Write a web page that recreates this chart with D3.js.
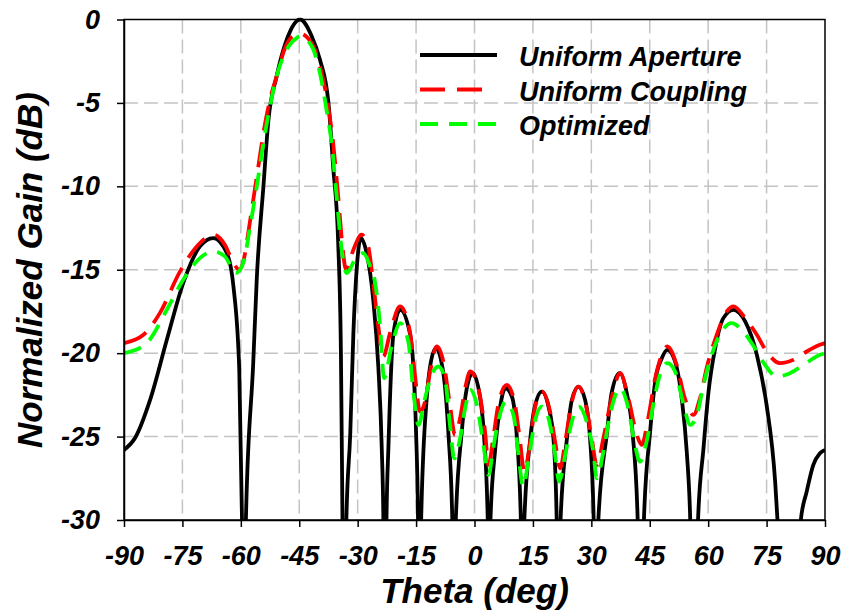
<!DOCTYPE html>
<html>
<head>
<meta charset="utf-8">
<script src="https://cdn.jsdelivr.net/npm/d3@7"></script>
<style>
  body { margin: 0; background: #fff; }
  text { font-family: "Liberation Sans", Arial, sans-serif; font-weight: bold; font-style: italic; }
</style>
</head>
<body>
<svg id="chart" width="847" height="615"></svg>
<script>
var width = 847, height = 615;
var margin = { top: 19.5, right: 22, bottom: 95, left: 124 };

var xTicks = [-90, -75, -60, -45, -30, -15, 0, 15, 30, 45, 60, 75, 90];
var yTicks = [-30, -25, -20, -15, -10, -5, 0];

var seriesNames = ["Uniform Aperture", "Uniform Coupling", "Optimized"];

// [theta (deg), gain (dB)]; values below -30 are clipped
var uniformAperture = [
  [-90, -25.8], [-87.2, -25.1], [-83.3, -22.8], [-79, -19.2], [-74.8, -15.8], [-70.5, -13.6],
  [-67.1, -13.1], [-63.6, -14.0], [-61.9, -16.0], [-60.4, -21], [-59.7, -30], [-59.2, -42],
  [-58.7, -30], [-56.8, -20.5], [-55.9, -15.5], [-54.2, -10.0], [-52.9, -6.0], [-50.8, -3.4],
  [-48.2, -1.2], [-44.8, 0], [-41.8, -1.0], [-39.7, -2.4], [-37.5, -5.0], [-36.3, -8.8],
  [-35.0, -13.4], [-34.3, -20], [-33.9, -30], [-33.4, -42], [-32.9, -30], [-31.9, -24.8],
  [-31.1, -18.8], [-30.2, -14.8], [-29.2, -13.1], [-27.7, -14.0], [-26.0, -16.8], [-24.7, -20.8],
  [-23.8, -25.8], [-23.4, -30], [-23.0, -42], [-22.6, -30], [-22.1, -25.6], [-20.8, -18.8],
  [-19.1, -17.4], [-16.6, -18.8], [-15.7, -20.8], [-15.0, -24.8], [-14.5, -30], [-14.1, -42],
  [-13.7, -30], [-12.3, -22.8], [-11.4, -20.8], [-9.9, -19.7], [-8.0, -21.2], [-6.7, -24.8],
  [-5.7, -30], [-5.25, -42], [-4.8, -30], [-3.3, -24.8], [-2.2, -22.4], [-0.5, -21.2],
  [1.4, -22.6], [2.4, -24.8], [3.4, -30], [3.75, -42], [4.1, -30], [5.3, -25.8],
  [6.6, -23.2], [7.9, -22.1], [9.6, -22.6], [10.8, -24.8], [11.9, -30], [12.35, -42],
  [12.8, -30], [14.3, -25.2], [15.5, -23.2], [17.3, -22.3], [19.0, -23.2], [20.3, -25.2],
  [21.1, -30], [21.6, -42], [22.1, -30], [23.7, -25.2], [25.0, -22.8], [26.7, -22.0],
  [28.4, -22.8], [29.7, -25.2], [30.6, -30], [31.2, -42], [31.8, -30], [34.0, -24.8],
  [35.2, -22.4], [37.3, -21.2], [39.1, -22.4], [40.6, -24.8], [41.9, -30], [42.7, -42],
  [43.5, -30], [45.1, -24.7], [46.4, -21.7], [48.1, -20.3], [49.5, -19.8], [51.5, -20.5],
  [53.2, -22.7], [54.5, -25.9], [55.4, -30], [56.4, -42], [57.4, -30], [58.8, -25.7],
  [60.1, -22.3], [61.8, -19.7], [63.9, -17.9], [66.5, -17.4], [69.5, -18.1], [72.5, -20.1],
  [75.0, -23.1], [77.2, -27.7], [77.8, -30], [80.8, -45], [83.8, -30], [85.3, -28.3],
  [87.0, -26.7], [88.7, -26.0], [90, -25.8]
];

var uniformCoupling = [
  [-90, -19.4], [-85, -18.9], [-80.8, -17.6], [-75.6, -15.1], [-70.5, -13.4], [-67.1, -12.9],
  [-64.1, -13.5], [-61.9, -14.6], [-60.3, -15.0], [-58.9, -14.0], [-58.1, -12.8], [-56.8, -10.8],
  [-55.5, -8.8], [-54.2, -6.8], [-52.5, -4.8], [-50.8, -3.4], [-48.8, -1.8], [-46.7, -1.0],
  [-44.8, -0.85], [-41.4, -1.6], [-39.7, -2.8], [-38.0, -4.6], [-36.3, -7.4], [-35.0, -10.6],
  [-33.9, -13.6], [-33.0, -15.0], [-31.1, -13.8], [-29.0, -12.9], [-27.3, -13.6], [-26.0, -15.8],
  [-24.7, -18.4], [-23.4, -20.2], [-21.7, -18.8], [-19.1, -17.2], [-16.6, -18.7], [-15.3, -21.3],
  [-14.0, -23.5], [-12.7, -22.9], [-11.4, -21.1], [-9.7, -19.6], [-8.0, -20.5], [-6.3, -23.1],
  [-5.0, -24.9], [-3.7, -23.9], [-2.4, -22.1], [-1.1, -21.1], [1.0, -22.1], [2.7, -24.7],
  [3.6, -26.7], [4.8, -25.1], [6.1, -23.1], [8.3, -21.9], [10.4, -23.1], [11.7, -25.3],
  [12.8, -27.1], [14.3, -25.3], [15.5, -23.3], [17.3, -22.3], [19.4, -23.5], [20.7, -25.3],
  [22.0, -26.9], [23.3, -25.3], [25.0, -22.9], [26.7, -22.0], [28.4, -22.9], [30.1, -25.1],
  [31.4, -26.7], [33.1, -25.1], [35.2, -22.7], [37.4, -21.2], [39.5, -22.7], [41.7, -24.9],
  [42.9, -25.5], [44.6, -23.9], [46.4, -21.5], [48.1, -20.1], [49.5, -19.6], [51.9, -20.7],
  [54.0, -22.7], [56.2, -23.7], [57.9, -22.7], [59.6, -20.9], [62.2, -18.9], [64.8, -17.5],
  [66.5, -17.2], [69.5, -17.9], [72.5, -18.9], [75.0, -19.9], [78.5, -20.6], [81.9, -20.4],
  [85.3, -19.9], [88.7, -19.5], [90, -19.4]
];

var optimized = [
  [-90, -20.0], [-84.2, -19.4], [-79, -17.4], [-74.8, -15.6], [-70.5, -14.3], [-67.1, -13.9],
  [-64.1, -14.2], [-61.3, -15.2], [-59.4, -14.6], [-57.6, -12.4], [-55.9, -10.0], [-54.2, -7.4],
  [-52.5, -5.2], [-50.8, -3.4], [-48.2, -1.8], [-45.6, -1.1], [-44.8, -1.0], [-41.8, -1.6],
  [-39.7, -3.2], [-38.0, -5.4], [-36.7, -7.4], [-35.4, -10.6], [-34.1, -13.8], [-32.8, -15.2],
  [-30.7, -14.4], [-28.6, -14.0], [-26.8, -14.8], [-25.5, -15.8], [-24.3, -18.2], [-23.2, -21.5],
  [-21.3, -19.6], [-19.1, -18.2], [-17.0, -19.3], [-15.7, -22.3], [-14.4, -24.3], [-12.7, -22.7],
  [-11.0, -21.3], [-9.3, -20.8], [-7.6, -21.5], [-6.3, -24.3], [-5.2, -26.3], [-3.7, -25.1],
  [-2.4, -23.3], [-1.1, -22.2], [0.6, -23.1], [2.3, -25.5], [3.6, -27.3], [4.8, -25.7],
  [6.1, -24.1], [8.0, -22.9], [10.0, -23.7], [11.2, -25.9], [12.5, -28.0], [13.8, -26.5],
  [15.5, -24.1], [17.3, -23.2], [19.0, -23.9], [20.7, -26.1], [21.7, -27.7], [23.3, -26.1],
  [25.0, -24.1], [26.8, -23.2], [28.8, -24.1], [30.5, -25.9], [31.4, -27.5], [33.1, -25.9],
  [34.8, -23.7], [37.4, -22.1], [39.5, -23.3], [41.2, -25.5], [42.5, -26.5], [44.2, -25.3],
  [45.9, -23.1], [47.6, -21.3], [49.5, -20.6], [51.5, -21.1], [53.7, -23.1], [55.4, -24.3],
  [57.1, -23.7], [58.8, -21.9], [60.9, -20.1], [63.5, -18.7], [66.0, -18.2], [69.0, -18.7],
  [72.0, -19.7], [74.6, -20.7], [77.6, -21.4], [81.0, -21.2], [84.5, -20.7], [88.7, -20.1],
  [90, -20.0]
];

var series = [
  { name: seriesNames[0], data: uniformAperture, color: "#000000", dash: null, key: 77 },
  { name: seriesNames[1], data: uniformCoupling, color: "#ff0000", dash: "25,12", key: 63 },
  { name: seriesNames[2], data: optimized, color: "#00ff00", dash: "18,11", key: 77 }
];

var svg = d3.select("#chart");
svg.append("rect").attr("width", width).attr("height", height).attr("fill", "#fff");

var x = d3.scaleLinear().domain([-90, 90]).range([margin.left, width - margin.right]);
var y = d3.scaleLinear().domain([-30, 0]).range([height - margin.bottom, margin.top]);

// grid
var grid = svg.append("g");
grid.selectAll(".vg").data(xTicks.slice(1, -1)).enter().append("line")
    .attr("x1", d => x(d)).attr("x2", d => x(d))
    .attr("y1", y(0)).attr("y2", y(-30))
    .attr("stroke", "#c4c4c4").attr("stroke-width", 1.5).attr("stroke-dasharray", "14,6");
grid.selectAll(".hg").data(yTicks.slice(1, -1)).enter().append("line")
    .attr("y1", d => y(d)).attr("y2", d => y(d))
    .attr("x1", x(-90)).attr("x2", x(90))
    .attr("stroke", "#c4c4c4").attr("stroke-width", 1.5).attr("stroke-dasharray", "14,6");

svg.append("clipPath").attr("id", "plot-clip").append("rect")
    .attr("x", x(-90)).attr("y", y(0) - 2)
    .attr("width", x(90) - x(-90)).attr("height", y(-30) - y(0) + 2);

var line = d3.line()
    .x(d => x(d[0]))
    .y(d => y(d[1]))
    .curve(d3.curveMonotoneX);

var plot = svg.append("g").attr("clip-path", "url(#plot-clip)");
series.forEach(function (s) {
    plot.append("path")
        .datum(s.data)
        .attr("d", line)
        .attr("fill", "none")
        .attr("stroke", s.color)
        .attr("stroke-width", 3.8)
        .attr("stroke-dasharray", s.dash);
});

// frame
svg.append("rect")
    .attr("x", x(-90)).attr("y", y(0))
    .attr("width", x(90) - x(-90)).attr("height", y(-30) - y(0))
    .attr("fill", "none").attr("stroke", "#000").attr("stroke-width", 1.5);

// axes
var xAxis = svg.append("g")
    .attr("transform", "translate(0," + y(-30) + ")")
    .call(d3.axisBottom(x).tickValues(xTicks).tickFormat(d => String(d))
        .tickSize(7).tickPadding(19).tickSizeOuter(0));
var yAxis = svg.append("g")
    .attr("transform", "translate(" + x(-90) + ",0)")
    .call(d3.axisLeft(y).tickValues(yTicks).tickFormat(d => String(d))
        .tickSize(7).tickPadding(17).tickSizeOuter(0));

[xAxis, yAxis].forEach(function (g) {
    g.select(".domain").attr("stroke", "#000").attr("stroke-width", 1.5);
    g.selectAll(".tick line").attr("stroke", "#000").attr("stroke-width", 1.5);
    g.selectAll(".tick text")
        .attr("fill", "#000")
        .style("font-size", "27px")
        .style("font-family", "'Liberation Sans', Arial, sans-serif")
        .style("font-weight", "bold")
        .style("font-style", "italic");
});

// axis titles
svg.append("text")
    .attr("x", (x(-90) + x(90)) / 2)
    .attr("y", 603)
    .attr("text-anchor", "middle")
    .style("font-size", "35px")
    .text("Theta (deg)");

svg.append("text")
    .attr("transform", "translate(42," + 270 + ") rotate(-90)")
    .attr("text-anchor", "middle")
    .style("font-size", "35px")
    .text("Normalized Gain (dB)");

// legend
var legend = svg.append("g").attr("transform", "translate(420,55)");
series.forEach(function (s, i) {
    var row = legend.append("g").attr("transform", "translate(0," + (i * 34.5) + ")");
    row.append("line")
        .attr("x1", 0).attr("x2", s.key)
        .attr("y1", 0).attr("y2", 0)
        .attr("stroke", s.color)
        .attr("stroke-width", 4)
        .attr("stroke-dasharray", s.dash);
    row.append("text")
        .attr("x", 99)
        .attr("y", 11)
        .style("font-size", "27px")
        .text(s.name);
});
</script>
</body>
</html>
